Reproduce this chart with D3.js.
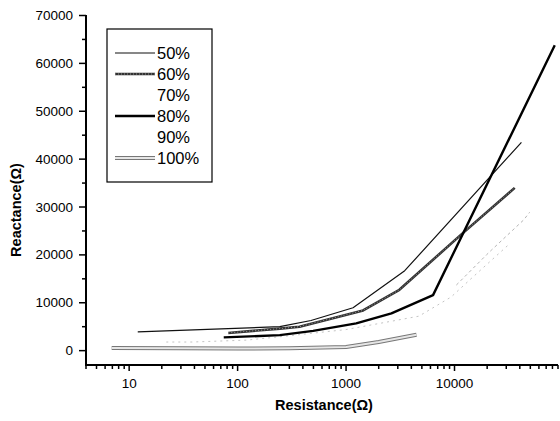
<!DOCTYPE html>
<html><head><meta charset="utf-8">
<script src="https://cdn.jsdelivr.net/npm/d3@7"></script>
<style>body{margin:0;background:#fff}svg{display:block}text{font-family:Arial,"Liberation Sans",sans-serif}</style>
</head><body><svg id="c" width="560" height="421"></svg>
<script>
const seriesNames = ["50%","60%","70%","80%","90%","100%"];
const s50 = [[12,3930],[245,5000],[475,6300],[1160,8950],[3475,16700],[41400,43500]];
const s60 = [[82,3700],[245,4600],[372,5000],[1436,8400],[3100,12700],[12000,24600],[35900,34000]];
const s70 = [[22,1800],[38,1800],[121,2200],[245,2900],[1000,4400],[4700,7200],[9300,11200],[13700,14700],[31100,22000]];
const s80 = [[74.5,2760],[245,3240],[497,4140],[1240,5700],[2620,7800],[6340,11600],[84000,63800]];
const s90 = [[10400,13700],[19700,20000],[21900,21000],[43400,27300],[49300,28900]];
const s100 = [[6.9,550],[30,500],[100,450],[300,500],[1000,750],[2000,1800],[4460,3300]];
const xTickValues = [10,100,1000,10000];
const yTickValues = [0,10000,20000,30000,40000,50000,60000,70000];

const svg = d3.select("#c");
const x = d3.scaleLog().domain([4,90000]).range([86,558]);
const y = d3.scaleLinear().domain([-3000,70000]).range([365,15.5]);
const line = d3.line().x(d=>x(d[0])).y(d=>y(d[1]));

const styles = [
  {data:s50, layers:[{stroke:"#111", w:1.2}]},
  {data:s60, layers:[{stroke:"#333", w:2.6},{stroke:"#999", w:1, dash:"1,2"}]},
  {data:s70, layers:[{stroke:"#c4c4c4", w:1, dash:"2,4"}]},
  {data:s80, layers:[{stroke:"#000", w:2.4}]},
  {data:s90, layers:[{stroke:"#b4b4b4", w:1, dash:"3,3"}]},
  {data:s100, layers:[{stroke:"#777", w:4},{stroke:"#e6e6e6", w:2}]}
];
styles.forEach(s=>{
  s.layers.forEach(l=>{
    svg.append("path").attr("d",line(s.data)).attr("fill","none")
      .attr("stroke",l.stroke).attr("stroke-width",l.w)
      .attr("stroke-dasharray",l.dash||null).attr("stroke-linejoin","round");
  });
});

// axes
const minor = [];
[1,10,100,1000,10000].forEach(d=>{for(let k=2;k<=9;k++){const v=d*k; if(v>=4&&v<=90000&&!xTickValues.includes(v)) minor.push(v);}});
const xAxis = svg.append("g").attr("transform","translate(0,365)");
xAxis.append("line").attr("x1",86).attr("x2",558).attr("stroke","#000").attr("stroke-width",2);
xAxis.selectAll(".mn").data(minor).join("line").attr("x1",d=>x(d)).attr("x2",d=>x(d)).attr("y1",0).attr("y2",4).attr("stroke","#000").attr("stroke-width",1.5);
xAxis.selectAll(".mj").data(xTickValues).join("line").attr("x1",d=>x(d)).attr("x2",d=>x(d)).attr("y1",0).attr("y2",6).attr("stroke","#000").attr("stroke-width",1.5);
xAxis.selectAll("text").data(xTickValues).join("text").attr("x",d=>x(d)).attr("y",23).attr("text-anchor","middle").attr("font-size",13.5).text(d=>d);

const yAxis = svg.append("g").attr("transform","translate(86,0)");
yAxis.append("line").attr("y1",15).attr("y2",366).attr("stroke","#000").attr("stroke-width",2);
const yMinor = d3.range(5000,70000,10000);
yAxis.selectAll(".mn").data(yMinor).join("line").attr("y1",d=>y(d)).attr("y2",d=>y(d)).attr("x1",0).attr("x2",-4).attr("stroke","#000").attr("stroke-width",1.5);
yAxis.selectAll(".mj").data(yTickValues).join("line").attr("y1",d=>y(d)).attr("y2",d=>y(d)).attr("x1",0).attr("x2",-7).attr("stroke","#000").attr("stroke-width",1.5);
yAxis.selectAll("text").data(yTickValues).join("text").attr("x",-13).attr("y",d=>y(d)+4.5).attr("text-anchor","end").attr("font-size",13.5).text(d=>d);

svg.append("text").attr("x",324).attr("y",410).attr("text-anchor","middle").attr("font-size",14.5).attr("font-weight","bold").text("Resistance(Ω)");
svg.append("text").attr("transform","translate(21,210) rotate(-90)").attr("text-anchor","middle").attr("font-size",14.5).attr("font-weight","bold").text("Reactance(Ω)");

// legend
const lg = svg.append("g");
lg.append("rect").attr("x",107).attr("y",29).attr("width",105).attr("height",153).attr("fill","#fff").attr("stroke","#000").attr("stroke-width",1.2);
seriesNames.forEach((n,i)=>{
  const yy = 53 + i*21;
  styles[i].layers.forEach(l=>{
    if(i===2||i===4) return;
    lg.append("line").attr("x1",115).attr("x2",155).attr("y1",yy).attr("y2",yy)
      .attr("stroke",l.stroke).attr("stroke-width",l.w).attr("stroke-dasharray",l.dash||null);
  });
  lg.append("text").attr("x",157).attr("y",yy+6).attr("font-size",16.5).text(n);
});
</script></body></html>
